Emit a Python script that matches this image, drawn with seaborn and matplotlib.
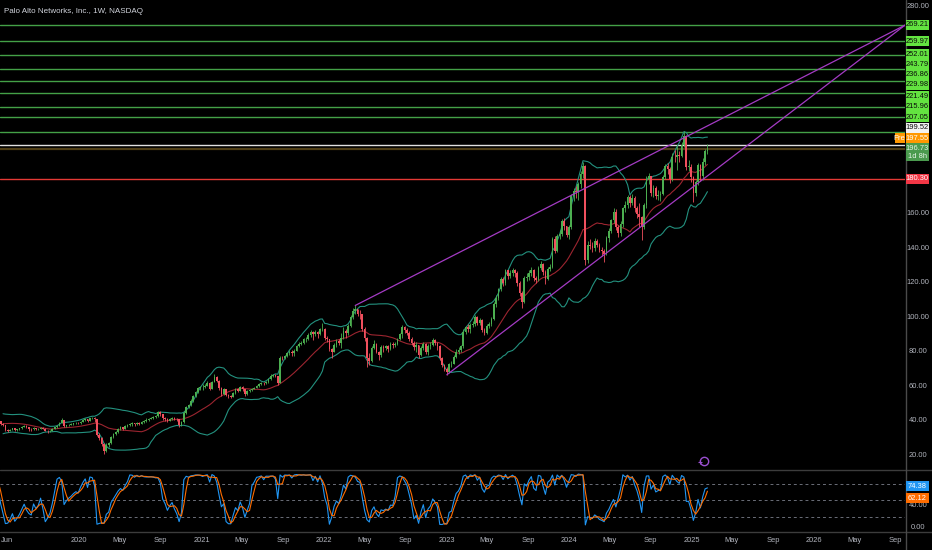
import numpy as np
import pandas as pd
import seaborn as sns
import matplotlib
matplotlib.use('Agg')
import matplotlib.pyplot as plt
import matplotlib.transforms as mtransforms
from matplotlib.patches import Rectangle
from matplotlib.lines import Line2D

# weekly candles, PANW (split adjusted), last bar = week of 2025-02-17
last_week = '2025-02-17'

closes = [
    # 2019 (warm-up weeks for the indicators, then visible from mid May)
    32.5, 33.0, 33.8, 34.5, 35.2, 36.0, 37.5, 38.8, 40.2, 40.5, 40.0, 40.6, 41.0, 40.8, 41.2, 41.3, 40.9, 39.5,
    38.0, 37.4, 34.4, 34.0, 34.6, 35.5, 34.3, 34.8, 35.4, 36.2, 37.0, 36.0, 35.3, 34.8, 35.6, 34.8, 35.0, 35.8,
    35.2, 34.2, 33.8, 34.2, 35.0, 36.0, 37.0, 38.8, 40.2, 36.6, 37.2, 37.6, 37.9, 38.3, 38.6, 38.4,
    # 2020
    39.4, 40.2, 40.8, 40.0, 41.2, 41.5, 40.6, 31.5, 30.0, 26.5, 22.5, 26.0, 26.8, 30.5, 32.0, 33.5, 35.0, 36.0,
    35.3, 37.0, 37.5, 38.0, 38.5, 37.8, 38.5, 38.2, 39.0, 39.8, 40.5, 41.0, 41.5, 42.0, 42.5, 44.8, 44.0, 41.5,
    40.8, 40.0, 40.8, 41.5, 41.0, 40.6, 37.5, 39.0, 44.5, 47.8, 48.8, 51.5, 54.0, 56.5, 58.8, 59.2,
    # 2021
    59.5, 60.2, 62.0, 58.5, 62.5, 65.5, 63.2, 59.0, 55.5, 58.0, 55.0, 54.0, 53.8, 56.0, 58.0, 57.2, 59.5, 58.0,
    55.5, 57.0, 57.5, 58.5, 59.0, 60.0, 61.0, 62.0, 61.5, 62.5, 64.0, 66.0, 66.5, 65.8, 61.5, 76.5, 76.0, 77.5,
    79.0, 80.0, 79.0, 80.5, 83.0, 84.5, 85.0, 87.0, 87.5, 89.5, 91.5, 90.0, 91.5, 90.0, 92.8, 93.0,
    # 2022
    88.0, 87.0, 81.5, 80.0, 84.0, 86.0, 85.0, 88.0, 92.0, 90.5, 95.0, 100.0, 103.5, 104.5, 102.0, 101.5, 93.0,
    88.0, 76.0, 74.5, 82.0, 84.5, 80.0, 78.0, 82.5, 82.0, 83.0, 81.5, 84.5, 83.5, 84.5, 87.0, 90.0, 94.0, 92.5,
    91.0, 87.5, 85.0, 82.5, 83.5, 78.0, 82.0, 84.5, 80.0, 83.0, 84.0, 86.5, 85.0, 83.0, 76.0, 72.0, 70.0,
    # 2023
    68.0, 72.5, 73.0, 77.0, 80.0, 81.0, 83.0, 91.5, 94.0, 93.0, 95.5, 96.0, 100.0, 96.5, 98.5, 92.5, 91.0,
    95.0, 96.0, 99.0, 107.5, 111.0, 116.0, 122.0, 119.5, 127.0, 124.0, 125.5, 127.0, 125.5, 120.0, 114.0,
    109.0, 122.5, 123.0, 125.5, 127.5, 122.5, 121.5, 128.5, 131.0, 126.0, 122.0, 128.0, 129.0, 145.0, 138.5,
    147.0, 148.0, 155.5, 152.5, 147.5,
    # 2024
    152.0, 170.0, 173.0, 172.5, 177.0, 183.0, 187.5, 133.0, 142.0, 141.0, 140.0, 144.0, 142.0, 139.0, 138.0,
    136.5, 146.0, 150.0, 156.0, 161.0, 152.0, 148.5, 154.0, 163.0, 165.0, 169.5, 166.0, 169.0, 163.0, 160.0,
    158.0, 152.0, 165.0, 180.0, 181.5, 172.0, 175.0, 170.0, 171.0, 171.5, 181.0, 187.5, 186.0, 180.0, 193.0,
    192.5, 194.0, 193.5, 200.0, 205.0, 187.0, 187.0, 181.0,
    # 2025
    172.0, 178.0, 188.0, 181.5, 190.0, 196.0, 196.73,
]

highs = [
    33.5, 33.9, 34.3, 35.0, 35.8, 36.6, 38.0, 39.5, 40.8, 41.2, 41.0, 41.0, 41.6, 41.5, 41.8, 41.9, 41.7, 41.0,
    39.8, 38.6, 37.6, 34.9, 35.2, 35.9, 35.6, 35.2, 35.8, 36.6, 37.5, 37.3, 36.2, 35.7, 36.0, 35.9, 35.4, 36.2,
    36.0, 35.4, 34.5, 34.7, 35.4, 36.4, 37.5, 39.3, 41.5, 40.4, 37.6, 38.0, 38.3, 38.8, 39.0, 38.9,
    39.8, 40.6, 41.3, 41.0, 41.6, 42.0, 41.8, 40.3, 32.8, 30.5, 27.0, 26.8, 27.5, 31.0, 32.6, 34.0, 35.6, 36.6,
    36.5, 37.6, 38.2, 38.6, 39.2, 38.8, 39.0, 38.9, 39.6, 40.5, 41.2, 41.6, 42.0, 42.6, 43.2, 45.6, 45.3, 43.8,
    42.0, 41.3, 41.3, 42.0, 42.0, 41.4, 40.7, 39.6, 45.5, 48.5, 49.8, 52.3, 54.8, 57.2, 59.6, 60.2,
    61.0, 61.2, 62.8, 62.4, 63.2, 67.0, 66.0, 63.5, 59.5, 58.8, 58.4, 55.6, 54.8, 56.5, 58.6, 58.8, 60.2, 59.9,
    58.3, 57.5, 58.2, 59.0, 59.6, 60.6, 61.6, 62.5, 62.6, 63.0, 64.6, 66.7, 67.2, 67.0, 66.0, 77.2, 77.5, 78.2,
    79.8, 80.8, 80.6, 81.2, 83.6, 85.3, 86.0, 87.8, 88.6, 90.5, 92.4, 92.0, 92.5, 92.0, 93.6, 96.5,
    93.5, 89.0, 87.5, 82.0, 85.0, 87.0, 87.0, 91.0, 94.5, 93.0, 96.0, 101.0, 105.0, 106.7, 104.8, 104.0, 102.0,
    94.5, 88.5, 79.0, 83.0, 86.5, 85.0, 80.5, 83.5, 84.0, 84.0, 83.8, 85.5, 85.8, 85.5, 88.0, 91.0, 95.5, 94.8,
    93.5, 92.0, 88.5, 86.0, 85.5, 84.0, 83.0, 85.5, 85.0, 84.5, 85.8, 88.0, 87.5, 85.5, 84.0, 77.0, 72.5,
    71.0, 73.5, 74.5, 78.0, 81.5, 82.5, 84.0, 93.0, 95.0, 96.0, 96.5, 97.5, 101.0, 100.5, 99.5, 99.0, 93.5,
    96.0, 97.0, 100.0, 109.0, 112.5, 117.0, 123.5, 123.0, 128.0, 127.5, 127.0, 128.5, 128.0, 126.5, 121.0,
    115.0, 124.0, 125.5, 127.0, 129.0, 128.0, 124.0, 129.5, 132.5, 131.5, 127.0, 129.0, 130.5, 146.5, 147.0,
    148.0, 150.5, 157.0, 157.5, 153.0,
    153.5, 171.5, 175.0, 176.0, 178.0, 184.5, 190.0, 188.0, 144.0, 145.0, 143.5, 146.0, 145.5, 143.0, 140.5,
    139.5, 147.0, 151.5, 157.0, 163.0, 162.5, 153.5, 155.5, 164.0, 167.5, 171.0, 171.0, 171.5, 170.0, 164.5,
    166.0, 158.5, 166.0, 182.0, 183.5, 182.0, 176.5, 176.0, 173.5, 173.0, 182.5, 189.0, 189.5, 187.0, 195.0,
    197.0, 199.5, 196.0, 201.5, 208.0, 205.5, 191.0, 189.0,
    182.0, 179.5, 189.5, 188.5, 192.0, 197.5, 200.5,
]

lows = [
    31.0, 32.2, 32.8, 33.5, 34.2, 35.0, 35.8, 37.3, 38.5, 39.6, 39.4, 39.5, 40.2, 40.3, 40.5, 40.8, 40.3, 38.8,
    37.5, 36.8, 33.8, 33.3, 33.8, 34.5, 34.0, 34.1, 34.6, 35.2, 36.0, 35.5, 34.2, 34.2, 34.6, 34.3, 34.5, 34.9,
    34.9, 33.8, 33.0, 33.4, 34.0, 34.9, 35.8, 36.9, 38.6, 36.0, 36.3, 36.8, 37.2, 37.6, 38.1, 37.9,
    38.2, 39.2, 39.9, 39.2, 39.8, 40.9, 39.0, 30.8, 29.0, 25.0, 20.8, 22.0, 24.5, 26.5, 30.0, 31.5, 33.0, 34.6,
    34.5, 35.2, 36.4, 37.0, 37.0, 37.0, 37.4, 37.6, 38.0, 38.6, 39.3, 40.0, 40.6, 40.9, 41.5, 42.3, 42.8, 40.5,
    40.0, 38.9, 39.6, 40.4, 40.5, 39.9, 36.5, 36.8, 38.8, 44.0, 47.0, 48.4, 51.0, 53.5, 56.0, 57.8,
    57.5, 58.6, 59.8, 57.6, 58.6, 62.2, 62.5, 57.8, 54.0, 55.0, 54.3, 53.0, 52.8, 53.5, 55.6, 56.5, 57.0, 57.2,
    54.2, 55.0, 56.5, 57.2, 58.0, 58.6, 59.5, 60.6, 60.8, 61.2, 61.8, 63.5, 65.4, 65.0, 60.8, 61.8, 75.0, 75.4,
    77.0, 77.8, 77.6, 77.5, 80.2, 82.5, 83.6, 84.6, 85.5, 86.8, 88.5, 86.5, 89.0, 88.0, 89.5, 92.0,
    86.5, 85.5, 80.5, 76.0, 79.5, 82.6, 83.5, 82.0, 87.2, 88.0, 89.5, 94.5, 99.0, 101.5, 100.5, 99.0, 92.0,
    86.0, 70.8, 72.0, 74.0, 81.5, 79.0, 75.0, 77.0, 80.0, 81.0, 80.0, 81.0, 82.0, 82.8, 84.0, 86.5, 88.0, 90.5,
    89.5, 86.0, 84.0, 81.0, 80.0, 76.5, 77.5, 81.0, 78.5, 78.0, 81.5, 83.0, 83.5, 81.0, 75.0, 71.0, 68.5,
    66.5, 67.5, 71.0, 72.5, 76.0, 78.5, 80.0, 82.0, 90.0, 91.5, 91.0, 94.0, 95.0, 95.5, 95.5, 91.5, 89.5,
    90.0, 93.5, 95.0, 98.0, 106.0, 110.0, 115.0, 118.0, 118.5, 122.0, 122.5, 124.0, 123.5, 118.0, 112.0,
    105.5, 108.0, 121.0, 121.5, 124.0, 121.0, 119.5, 121.0, 127.5, 124.5, 119.0, 121.5, 126.5, 128.5, 137.0,
    137.5, 145.0, 147.0, 150.5, 146.5,
    145.0, 151.0, 167.5, 169.0, 168.0, 175.0, 180.5, 130.0, 131.5, 139.5, 137.5, 138.5, 140.5, 137.5, 135.5,
    132.0, 136.0, 143.5, 149.0, 154.5, 150.5, 146.5, 147.0, 152.0, 161.0, 163.5, 164.0, 165.0, 161.0, 157.5,
    152.0, 144.5, 151.0, 163.5, 177.0, 170.0, 169.5, 168.5, 168.0, 167.5, 170.5, 180.0, 183.0, 177.5, 179.0,
    190.0, 185.5, 190.0, 192.5, 198.5, 185.0, 184.5, 178.5,
    166.5, 170.0, 176.5, 179.0, 179.5, 188.0, 194.5,
]

# horizontal levels drawn on the chart
green_levels = [269.21, 259.97, 252.01, 243.79, 236.86, 229.98, 221.49, 215.96, 207.05]
white_level = 199.52
pre_level = 197.55
red_level = 180.30
countdown = '1d 8h'

# wedge trendlines (anchor dates, prices)
upper_line = (['2022-04-04', '2026-09-29'], [106.7, 269.21])
lower_line = (['2023-01-02', '2026-09-29'], [66.5, 269.21])

# stochastic labels shown on its scale
stoch_labels = [74.38, 62.12]

W, H = 932, 550
BG = '#000000'
UP, DOWN = '#4caf50', '#f0505e'
TXT = '#b2b5be'
FS = 5.4

# ---- indicators ----
dates = pd.date_range(end=last_week, periods=len(closes), freq='W-MON')
df = pd.DataFrame({'date': dates, 'close': closes, 'high': highs, 'low': lows})
df['open'] = df['close'].shift(1).fillna(df['close'])
df['high'] = df[['high', 'open', 'close']].max(axis=1)
df['low'] = df[['low', 'open', 'close']].min(axis=1)
df['basis'] = df['close'].rolling(20).mean()
sd = df['close'].rolling(20).std(ddof=0)
df['upper'] = df['basis'] + 2 * sd
df['lower'] = df['basis'] - 2 * sd
hh = df['high'].rolling(14).max()
ll = df['low'].rolling(14).min()
df['k'] = 100 * (df['close'] - ll) / (hh - ll)
df['d'] = df['k'].rolling(3).mean()

sns.set_theme(style='dark')
plt.rcParams['font.family'] = ['Liberation Sans Narrow', 'Liberation Sans', 'DejaVu Sans']

fig = plt.figure(figsize=(W / 100, H / 100), dpi=100, facecolor=BG)
ax = fig.add_axes([0, 1 - 469 / H, 905 / W, 469 / H])
sx = fig.add_axes([0, 1 - 531 / H, 905 / W, 61 / H])
for a in (ax, sx):
    a.set_facecolor(BG)
    for s in a.spines.values():
        s.set_visible(False)
    a.set_xticks([])
    a.set_yticks([])

xmin, xmax = pd.Timestamp('2019-05-11'), pd.Timestamp('2026-09-29')

# ---- price panel ----
for p in green_levels:
    ax.axhline(p, color='#43a047', lw=1.0, zorder=1)
ax.axhline(white_level, color='#e0e0e0', lw=1.0, zorder=1)
ax.axhline(pre_level, color='#4e3d14', lw=1.6, zorder=1)
ax.axhline(red_level, color='#e53935', lw=1.0, zorder=1)

sns.lineplot(data=df, x='date', y='upper', ax=ax, color='#23917f', lw=0.8, zorder=2)
sns.lineplot(data=df, x='date', y='lower', ax=ax, color='#23917f', lw=0.8, zorder=2)
sns.lineplot(data=df, x='date', y='basis', ax=ax, color='#9c2530', lw=0.8, zorder=2)

up = df['close'] >= df['open']
cols = np.where(up, UP, DOWN)
ax.vlines(df['date'], df['low'], df['high'], colors=cols, lw=0.6, zorder=3)
body = (df['close'] - df['open']).abs().clip(lower=0.35)
ax.bar(df['date'], body, bottom=df[['open', 'close']].min(axis=1), width=5.0,
       color=cols, linewidth=0, zorder=4)

for xs, ys in (upper_line, lower_line):
    ax.plot(pd.to_datetime(xs), ys, color='#a43bc4', lw=0.9, zorder=5)

ax.set_xlim(xmin, xmax)
ax.set_ylim(11.9, 283.8)
ax.set_xlabel('')
ax.set_ylabel('')

# ---- stochastic panel ----
for lvl in (80, 50, 20):
    sx.axhline(lvl, color='#6b6e78', lw=0.7, ls=(0, (3, 3)))
sns.lineplot(data=df, x='date', y='k', ax=sx, color='#2196f3', lw=0.8)
sns.lineplot(data=df, x='date', y='d', ax=sx, color='#ff6d00', lw=0.8)
sx.set_xlim(xmin, xmax)
sx.set_ylim(-6.2, 105.7)
sx.set_xlabel('')
sx.set_ylabel('')


def box(yc, text, face, fg, h=10.2, x0=906.0, x1=928.5):
    top = yc - h / 2
    fig.add_artist(Rectangle((x0 / W, 1 - (top + h) / H), (x1 - x0) / W, h / H,
                             transform=fig.transFigure, facecolor=face,
                             edgecolor='none', zorder=5))
    fig.text((x0 + x1) / 2 / W, 1 - yc / H, text, ha='center', va='center',
             color=fg, fontsize=FS, zorder=6)


# label stack on the price scale (pixel centres, pushed apart like the platform does)
label_y = [25, 41.3, 54.3, 64.5, 74.5, 85, 96.5, 107, 117.3]
for p, yc in zip(green_levels, label_y):
    box(yc, f'{p:.2f}', '#63e340', '#0a0a0a')
box(128, f'{white_level:.2f}', '#f2f2f2', '#0a0a0a')
box(138.3, f'{pre_level:.2f}', '#ff9800', '#ffffff')
box(138.3, 'Pre', '#ff9800', '#ffffff', x0=894.5, x1=905.0)
fig.add_artist(Rectangle((906 / W, 1 - 161 / H), 22.5 / W, 17.5 / H, transform=fig.transFigure,
                         facecolor='#4a9a4e', edgecolor='none', zorder=5))
fig.text(917.2 / W, 1 - 148.8 / H, f'{closes[-1]:.2f}', ha='center', va='center',
         color='#e8f5e9', fontsize=FS, zorder=6)
fig.text(917.2 / W, 1 - 156.2 / H, countdown, ha='center', va='center',
         color='#e8f5e9', fontsize=FS, zorder=6)
box(179, f'{red_level:.2f}', '#f23645', '#ffffff')
box(486, f'{stoch_labels[0]:.2f}', '#2196f3', '#ffffff')
box(498, f'{stoch_labels[1]:.2f}', '#ff6d00', '#ffffff')
box_centres = label_y + [128, 138.3, 148.8, 156.2, 179, 486, 498]


# ---- right price scale (ticks fully under a label box are left out) ----
def tick_text(axis, vals):
    tr = mtransforms.blended_transform_factory(fig.transFigure, axis.transData)
    for p in vals:
        ypx = H - axis.transData.transform((0, p))[1]
        if min(abs(ypx - c) for c in box_centres) < 7:
            continue
        axis.text(918 / W, p, f'{p:.2f}', transform=tr, ha='center', va='center',
                  color=TXT, fontsize=FS, clip_on=False, zorder=1)


tick_text(ax, range(20, 281, 20))
tick_text(sx, (80, 40, 0))

# ---- time scale ----
tick_dates = ['2019-06-01']
tick_labels = ['Jun']
for yr in range(2020, 2027):
    for m, lab in ((1, str(yr)), (5, 'May'), (9, 'Sep')):
        tick_dates.append(f'{yr}-{m:02d}-01')
        tick_labels.append(lab)
xtr = mtransforms.blended_transform_factory(sx.transData, fig.transFigure)
for d, lab in zip(tick_dates, tick_labels):
    sx.text(pd.Timestamp(d), 1 - 540 / H, lab, transform=xtr, ha='center', va='center',
            color=TXT, fontsize=FS, clip_on=False)

# ---- frame / separators ----
for yy in (469.5, 531.5):
    fig.add_artist(Line2D([0, 1], [1 - yy / H] * 2, transform=fig.transFigure,
                          color='#3c3c3c', lw=1.0, zorder=4))
fig.add_artist(Line2D([905.5 / W] * 2, [0, 1], transform=fig.transFigure,
                      color='#4a4a4a', lw=1.0, zorder=4))

fig.text(4 / W, 1 - 11.5 / H, 'Palo Alto Networks, Inc., 1W, NASDAQ', ha='left', va='center',
         color='#d1d4dc', fontsize=5.8)

# small alert icon above the oscillator
fig.add_artist(Line2D([704 / W], [1 - 461 / H], transform=fig.transFigure, marker='o', ms=6,
                      mfc='none', mec='#9b4fd1', mew=1.0, zorder=6))
fig.add_artist(Line2D([700 / W], [1 - 462 / H], transform=fig.transFigure, marker='+', ms=3,
                      mec='#9b4fd1', mew=0.8, zorder=6))

fig.savefig('out.png', dpi=100, facecolor=BG)
